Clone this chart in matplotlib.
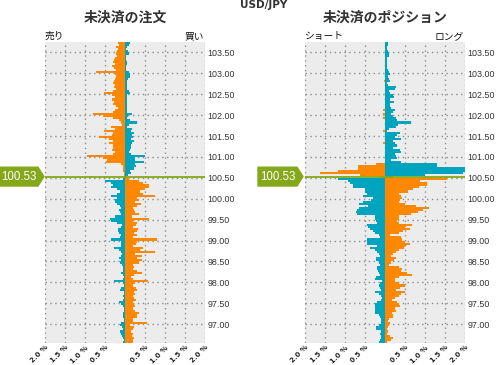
import numpy as np
import matplotlib
matplotlib.use('Agg')
import matplotlib.pyplot as plt
from matplotlib.patches import Polygon
from matplotlib.transforms import blended_transform_factory

plt.rcParams['font.family'] = ['Noto Sans CJK JP', 'DejaVu Sans']

current_price = 100.53
bucket = 0.05
top_price = 103.75
bottom_price = 96.55

price_ticks = [97.0, 97.5, 98.0, 98.5, 99.0, 99.5, 100.0, 100.5,
               101.0, 101.5, 102.0, 102.5, 103.0, 103.5]
pct_ticks = [-2.0, -1.5, -1.0, -0.5, 0.0, 0.5, 1.0, 1.5, 2.0]
pct_labels = ['2.0 %', '1.5 %', '1.0 %', '0.5 %', '', '0.5 %', '1.0 %', '1.5 %', '2.0 %']

# open orders (%), buckets listed from top (103.70) down to 100.50
orders_sell_above = [
    0.18, 0.15, 0.22, 0.18, 0.20,
    0.22, 0.20, 0.25, 0.28, 0.30, 0.25, 0.32, 0.28, 0.22, 0.72,
    0.25, 0.22, 0.25, 0.27, 0.30, 0.25, 0.27, 0.22, 0.30, 0.52,
    0.33, 0.25, 0.32, 0.28, 0.30, 0.22, 0.18, 0.25, 0.30, 0.80,
    0.54, 0.30, 0.15, 0.10, 0.08, 0.35, 0.25, 0.52, 0.30, 0.32,
    0.65, 0.40, 0.30, 0.40, 0.30, 0.30, 0.32, 0.25, 0.30, 0.95,
    0.55, 0.45, 0.48, 0.10, 0.06, 0.05, 0.05, 0.03, 0.03, 0.02]
orders_buy_above = [
    0.12, 0.10, 0.05, 0.03, 0.08,
    0.10, 0.02, 0.03, 0.02, 0.05, 0.04, 0.03, 0.02, 0.03, 0.10,
    0.12, 0.12, 0.08, 0.05, 0.05, 0.04, 0.05, 0.06, 0.10, 0.12,
    0.05, 0.05, 0.04, 0.05, 0.05, 0.04, 0.05, 0.05, 0.05, 0.18,
    0.08, 0.05, 0.12, 0.29, 0.10, 0.05, 0.18, 0.15, 0.22, 0.18,
    0.20, 0.15, 0.22, 0.18, 0.15, 0.15, 0.12, 0.10, 0.15, 0.50,
    0.25, 0.25, 0.48, 0.25, 0.28, 0.22, 0.12, 0.15, 0.08, 0.03]
# buckets from 100.45 down to 96.55
orders_sell_below = [
    0.05, 0.50, 0.35, 0.30, 0.35, 0.20, 0.12, 0.20, 0.35, 0.20,
    0.25, 0.25, 0.20, 0.12, 0.10, 0.15, 0.12, 0.10, 0.25, 0.38,
    0.35, 0.20, 0.08, 0.10, 0.18, 0.18, 0.15, 0.10, 0.12, 0.35,
    0.10, 0.10, 0.10, 0.28, 0.15, 0.10, 0.08, 0.10, 0.15, 0.10,
    0.12, 0.08, 0.05, 0.05, 0.05, 0.10, 0.05, 0.03, 0.05, 0.28,
    0.05, 0.03, 0.10, 0.12, 0.03, 0.03, 0.05, 0.03, 0.05, 0.15,
    0.10, 0.05, 0.03, 0.03, 0.05, 0.05, 0.05, 0.03, 0.03, 0.10,
    0.12, 0.08, 0.05, 0.12, 0.10, 0.08, 0.05, 0.03, 0.05]
orders_buy_below = [
    0.10, 0.35, 0.45, 0.60, 0.60, 0.50, 0.38, 0.45, 0.75, 0.30,
    0.35, 0.25, 0.40, 0.30, 0.20, 0.22, 0.25, 0.35, 0.18, 0.60,
    0.20, 0.30, 0.28, 0.20, 0.32, 0.30, 0.22, 0.30, 0.20, 0.80,
    0.30, 0.28, 0.20, 0.45, 0.38, 0.75, 0.25, 0.42, 0.30, 0.42,
    0.35, 0.20, 0.22, 0.20, 0.30, 0.42, 0.22, 0.15, 0.20, 0.58,
    0.25, 0.20, 0.28, 0.30, 0.22, 0.25, 0.20, 0.22, 0.28, 0.20,
    0.22, 0.25, 0.20, 0.25, 0.35, 0.30, 0.30, 0.20, 0.20, 0.55,
    0.12, 0.22, 0.20, 0.15, 0.20, 0.18, 0.22, 0.20, 0.20]

# open positions (%)
pos_short_above = [
    0, 0, 0, 0, 0,
    0, 0, 0, 0, 0, 0, 0, 0, 0, 0,
    0, 0, 0, 0.03, 0, 0, 0, 0, 0, 0,
    0, 0, 0, 0, 0, 0, 0, 0.04, 0, 0.04,
    0, 0.04, 0, 0, 0, 0, 0, 0.05, 0, 0,
    0, 0, 0, 0.04, 0, 0, 0, 0, 0, 0,
    0, 0, 0, 0.22, 0.67, 0.67, 1.17, 1.63, 0.63, 0.12]
pos_long_above = [
    0.08, 0.08, 0.05, 0.04, 0.07,
    0.10, 0.10, 0.06, 0.05, 0.04, 0.04, 0.06, 0.05, 0.07, 0.11,
    0.12, 0.08, 0.10, 0.12, 0.05, 0.08, 0.27, 0.25, 0.10, 0.12,
    0.20, 0.22, 0.12, 0.22, 0.12, 0.12, 0.15, 0.25, 0.20, 0.15,
    0.20, 0.28, 0.30, 0.65, 0.32, 0.28, 0.10, 0.05, 0.38, 0.30,
    0.25, 0.40, 0.20, 0.25, 0.30, 0.20, 0.38, 0.40, 0.25, 0.28,
    0.30, 0.15, 0.40, 1.30, 1.30, 2.20, 2.20, 1.95, 1.00, 0.20]
pos_short_below = [
    1.17, 0.92, 0.88, 0.80, 0.80, 0.50,
    0.50, 0.45, 0.55, 0.30, 0.35, 0.55, 0.65, 0.42, 0.65, 0.70,
    0.72, 0.70, 0.25, 0.25, 0.22, 0.20, 0.45, 0.42, 0.38, 0.30,
    0.25, 0.15, 0.12, 0.45, 0.45, 0.45, 0.20, 0.37, 0.25, 0.20,
    0.15, 0.12, 0.22, 0.22, 0.15, 0.12, 0.20, 0.20, 0.18, 0.15,
    0.12, 0.22, 0.25, 0.08, 0.12, 0.15, 0.12, 0.10, 0.25, 0.15,
    0.10, 0.08, 0.10, 0.20, 0.25, 0.25, 0.25, 0.25, 0.25, 0.15,
    0.12, 0.10, 0.10, 0.10, 0.15, 0.22, 0.22, 0.10, 0.12, 0.10,
    0.10, 0.12, 0.15]
pos_long_below = [
    1.54, 0.88, 1.04, 1.04, 0.86, 0.70,
    0.58, 0.35, 0.40, 0.42, 0.38, 0.35, 0.50, 0.78, 1.10, 0.95,
    0.82, 0.65, 0.35, 0.35, 0.30, 0.35, 0.68, 0.50, 0.62, 0.45,
    0.35, 0.12, 0.40, 0.42, 0.50, 0.62, 0.50, 0.48, 0.35, 0.28,
    0.20, 0.15, 0.28, 0.22, 0.15, 0.10, 0.35, 0.42, 0.40, 0.55,
    0.68, 0.35, 0.25, 0.25, 0.35, 0.50, 0.38, 0.28, 0.50, 0.40,
    0.35, 0.25, 0.18, 0.30, 0.35, 0.38, 0.25, 0.28, 0.18, 0.20,
    0.20, 0.10, 0.08, 0.12, 0.10, 0.08, 0.05, 0.08, 0.05, 0.12,
    0.20, 0.15, 0.05]

orange = '#ff8800'
teal = '#00a4bf'
green = '#84a81a'
bg = '#ececec'
txt = '#333333'

W, H = 496, 365
fig = plt.figure(figsize=(W / 100, H / 100), dpi=100)


def px(x0, y0, w, h):
    return [x0 / W, 1 - (y0 + h) / H, w / W, h / H]


def draw_panel(ax, left_above, right_above, left_below, right_below):
    n_up = len(left_above)
    n_dn = len(left_below)
    y_up = top_price - bucket * (np.arange(n_up) + 1)
    y_dn = top_price - bucket * n_up - bucket * (np.arange(n_dn) + 1)
    ax.barh(y_up, -np.array(left_above), height=bucket, align='edge', color=orange, lw=0)
    ax.barh(y_up, right_above, height=bucket, align='edge', color=teal, lw=0)
    ax.barh(y_dn, -np.array(left_below), height=bucket, align='edge', color=teal, lw=0)
    ax.barh(y_dn, right_below, height=bucket, align='edge', color=orange, lw=0)
    ax.axhline(current_price, color=green, lw=1.3, zorder=5)

    ax.set_facecolor(bg)
    ax.set_xlim(-2, 2)
    ax.set_ylim(bottom_price, top_price)
    ax.set_xticks(pct_ticks)
    ax.set_xticklabels(pct_labels, rotation=45, ha='right', va='top',
                       rotation_mode='anchor', fontsize=5, fontweight='bold',
                       family='DejaVu Sans', color='#222222')
    ax.set_yticks(price_ticks)
    ax.set_yticklabels(['%.2f' % p for p in price_ticks], fontsize=6.4,
                       family='Liberation Sans', color=txt)
    ax.yaxis.tick_right()
    ax.tick_params(length=0, pad=2)
    ax.tick_params(axis='x', pad=1)
    ax.grid(True, color='#8c8c8c', linestyle=(0, (1, 2.5)), linewidth=1)
    ax.set_axisbelow(True)
    for s in ax.spines.values():
        s.set_visible(False)


def price_tag(ax, x0, x1, tip):
    tr = blended_transform_factory(fig.transFigure, ax.transData)
    hh = 0.225
    pts = [(x0 / W, current_price - hh), (x1 / W, current_price - hh),
           (tip / W, current_price), (x1 / W, current_price + hh),
           (x0 / W, current_price + hh)]
    ax.add_patch(Polygon(pts, closed=True, transform=tr, color=green,
                         clip_on=False, zorder=6))
    ax.text((x0 + x1) / 2 / W, current_price, '%.2f' % current_price,
            transform=tr, ha='center', va='center', color='white',
            fontsize=8.3, family='Liberation Sans', zorder=7, clip_on=False)


ax1 = fig.add_axes(px(45, 42, 160, 301))
draw_panel(ax1, orders_sell_above, orders_buy_above, orders_sell_below, orders_buy_below)
price_tag(ax1, 0, 38, 44)

ax2 = fig.add_axes(px(305, 42, 160, 301))
draw_panel(ax2, pos_short_above, pos_long_above, pos_short_below, pos_long_below)
price_tag(ax2, 258, 297, 303)

fig.text(264 / W, 1 - 5 / H, 'USD/JPY', ha='center', va='center',
         fontsize=7.5, fontweight='bold', color=txt, family='DejaVu Sans')
fig.text(125 / W, 1 - 18 / H, '未決済の注文', ha='center', va='center',
         fontsize=10, fontweight='bold', color=txt)
fig.text(385 / W, 1 - 18 / H, '未決済のポジション', ha='center', va='center',
         fontsize=10, fontweight='bold', color=txt)
fig.text(45 / W, 1 - 36 / H, '売り', ha='left', va='center', fontsize=7, color='#111111')
fig.text(204 / W, 1 - 36 / H, '買い', ha='right', va='center', fontsize=7, color='#111111')
fig.text(305 / W, 1 - 36 / H, 'ショート', ha='left', va='center', fontsize=7, color='#111111')
fig.text(464 / W, 1 - 36 / H, 'ロング', ha='right', va='center', fontsize=7, color='#111111')

fig.savefig('out.png', dpi=100)
